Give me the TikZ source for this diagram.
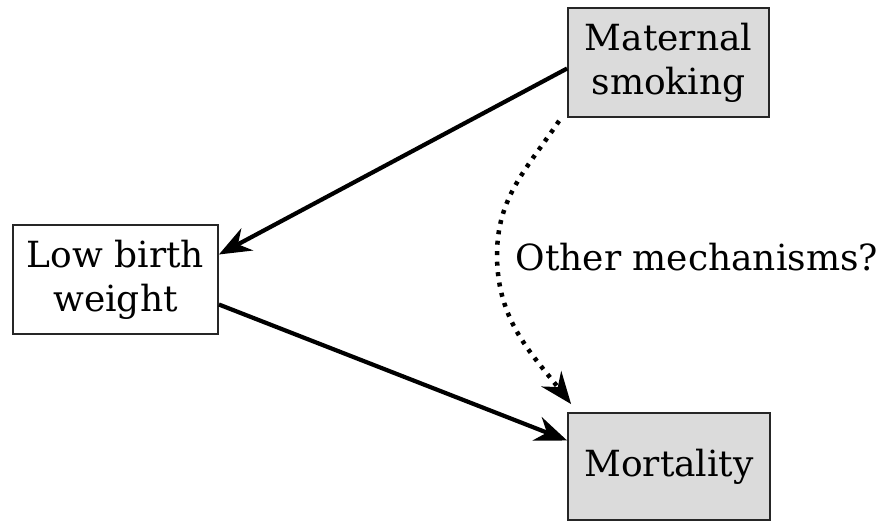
\documentclass[tikz,border=0pt]{standalone}
\usepackage{fontspec}
\setmainfont{DejaVu Serif}
\usetikzlibrary{arrows.meta}

\begin{document}
\begin{tikzpicture}[x=1pt, y=1pt, >={Stealth[length=32pt, width=25pt]},
    factor/.style={draw=black!85, line width=1.8pt, align=center, inner sep=0pt,
        font=\fontsize{36}{44}\selectfont},
    shaded/.style={factor, fill=black!14},
    effect/.style={->, line width=4.2pt},
    maybe/.style={->, line width=4.5pt, dash pattern=on 4pt off 6.5pt}]

    % --- Canvas ---
    \useasboundingbox (0,0) rectangle (888,522);

    % --- 1. Factors ---
    \node[shaded, minimum width=201pt, minimum height=109pt] (Smoking) at (668.5,459.5)
        {Maternal\\smoking};
    \node[factor, fill=white, minimum width=205pt, minimum height=109pt] (Weight) at (115.5,242.5)
        {Low birth\\weight};
    \node[shaded, minimum width=202pt, minimum height=107pt] (Mortality) at (669,55.5)
        {Mortality};

    % --- 2. Direct effects ---
    \draw[effect] ([yshift=-6pt]Smoking.west) -- ([yshift=25pt]Weight.east);
    \draw[effect] ([yshift=-25pt]Weight.east) -- ([yshift=26pt]Mortality.west);

    % --- 3. Other pathway (dotted) ---
    \coordinate (Bend) at (497,267);
    \draw[maybe] ([shift={(-8pt,-3pt)}]Smoking.south west)
        to[out=236, in=90] (Bend)
        to[out=270, in=128] ([shift={(4pt,8pt)}]Mortality.north west);
    \node[anchor=west, font=\fontsize{36}{44}\selectfont] (Other) at (512,265)
        {Other mechanisms?};

\end{tikzpicture}
\end{document}
